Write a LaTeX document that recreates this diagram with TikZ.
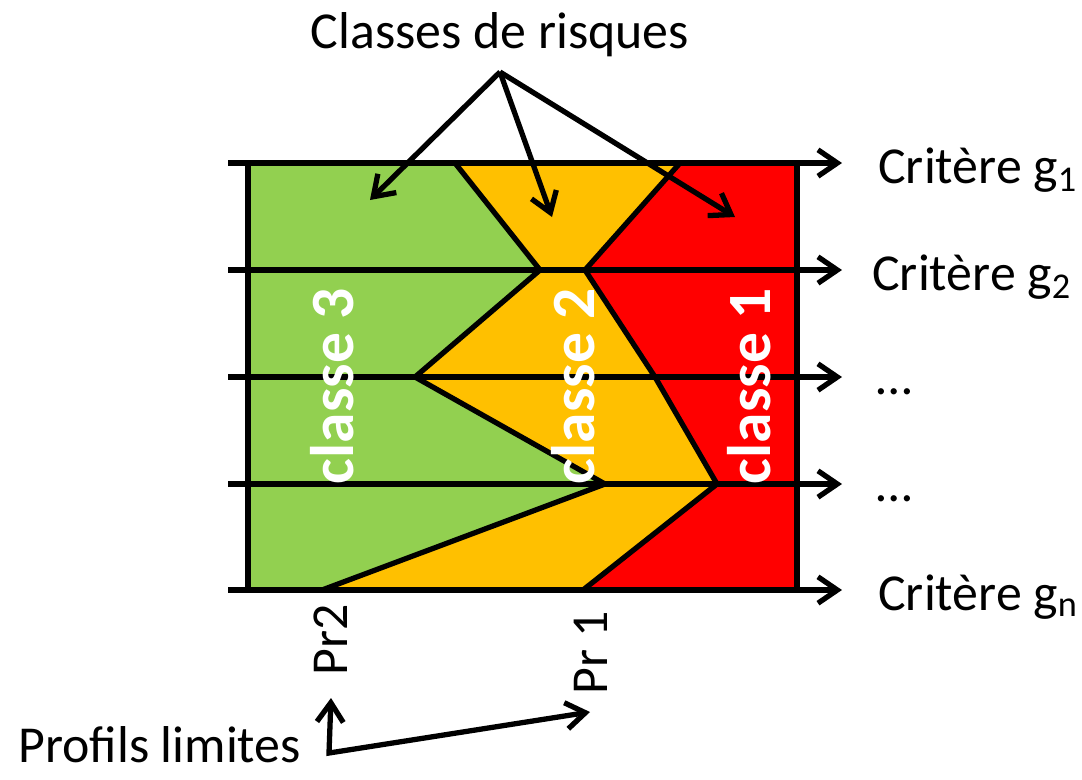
\documentclass[tikz,border=0pt]{standalone}
\usepackage{fontspec}
\setmainfont{Carlito}
\usetikzlibrary{arrows.meta}
\definecolor{vertclair}{HTML}{92D050}
\definecolor{orangeclair}{HTML}{FFC000}
\definecolor{rouge}{HTML}{FF0000}
\begin{document}
\begin{tikzpicture}[join=round,x=0.02cm,y=-0.02cm]
\tikzstyle{trait} = [line width=3pt]
\tikzstyle{fleche} = [line width=3pt,-{Straight Barb[length=11pt,width=15pt]}]
\tikzstyle{texte} = [font=\fontsize{29.5}{35}\selectfont,inner sep=0pt]
\tikzstyle{classe} = [font=\fontsize{35}{42}\selectfont\bfseries,text=white,rotate=90,inner sep=0pt]
\useasboundingbox (0,0) rectangle (1082,779);
%coordonnées des profils limites
%profil Pr2
\coordinate (B1) at (455,163);
\coordinate (B2) at (540,270);
\coordinate (B3) at (415,377);
\coordinate (B4) at (605,484);
\coordinate (B5) at (322,590);
%profil Pr1
\coordinate (A1) at (680,163);
\coordinate (A2) at (585,270);
\coordinate (A3) at (655,377);
\coordinate (A4) at (717,484);
\coordinate (A5) at (583,590);
%remplir les classes
\fill[rouge] (248,163) rectangle (797,590); %classe 1
\fill[orangeclair] (248,163)--(A1)--(A2)--(A3)--(A4)--(A5)--(248,590)--cycle; %classe 2
\fill[vertclair] (248,163)--(B1)--(B2)--(B3)--(B4)--(B5)--(248,590)--cycle; %classe 3
%axes des critères
\coordinate (d1) at (228,163); \coordinate (f1) at (842,163);
\coordinate (d2) at (228,270); \coordinate (f2) at (842,270);
\coordinate (d3) at (228,377); \coordinate (f3) at (842,377);
\coordinate (d4) at (228,484); \coordinate (f4) at (842,484);
\coordinate (d5) at (228,590); \coordinate (f5) at (842,590);
\draw[fleche] (d1)--(f1);
\draw[fleche] (d2)--(f2);
\draw[fleche] (d3)--(f3);
\draw[fleche] (d4)--(f4);
\draw[fleche] (d5)--(f5);
%cadre
\draw[line width=3.4pt] (248,163) rectangle (797,590);
%tracer les profils
\draw[trait] (B1)--(B2)--(B3)--(B4)--(B5);
\draw[trait] (A1)--(A2)--(A3)--(A4)--(A5);
%noms des critères
\node[texte,anchor=base west] (g1) at (878,183) {Critère g\textsubscript{1}};
\node[texte,anchor=base west] (g2) at (872,290) {Critère g\textsubscript{2}};
\node[texte,anchor=base west] (g3) at (876,394) {…};
\node[texte,anchor=base west] (g4) at (876,501) {…};
\node[texte,anchor=base west] (gn) at (878,610) {Critère g\textsubscript{n}};
%classes
\node[classe,anchor=base] (cl3) at (353,386) {classe 3};
\node[classe,anchor=base] (cl2) at (594,386) {classe 2};
\node[classe,anchor=base] (cl1) at (770,386) {classe 1};
%classes de risques
\node[texte,anchor=base] (titre) at (500,48) {Classes de risques};
\coordinate (origine) at (500,72);
\coordinate (c3) at (370,200);
\coordinate (c2) at (552,217);
\coordinate (c1) at (735,217);
\draw[fleche] (origine)--(c3);
\draw[fleche] (origine)--(c2);
\draw[fleche] (origine)--(c1);
%profils limites
\node[texte,rotate=90,anchor=base] (pr2) at (347,640) {Pr2};
\node[texte,rotate=90,anchor=base] (pr1) at (607,653) {Pr 1};
\node[texte,anchor=base west] (profils) at (18,762) {Profils limites};
\coordinate (coin) at (329,753);
\coordinate (t2) at (331,698);
\coordinate (t1) at (590,712);
\draw[line width=3pt,join=miter,{Straight Barb[length=11pt,width=15pt]}-{Straight Barb[length=11pt,width=15pt]}] (t2)--(coin)--(t1);
\end{tikzpicture}
\end{document}
